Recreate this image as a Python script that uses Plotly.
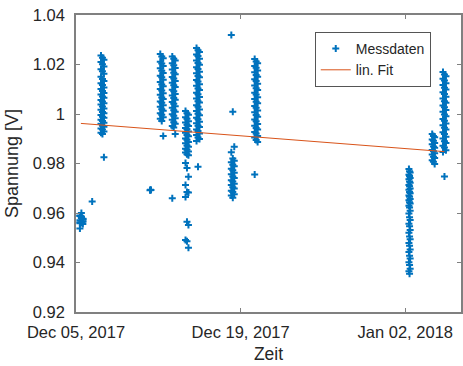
import numpy as np
import pandas as pd
import plotly.graph_objects as go

# ---- data ----
# each measurement session: start time, end time, measured voltages [V]
sess_a_time = ["2017-12-05 08:00", "2017-12-05 14:00"]
sess_a_vals = [0.9537, 0.9583, 0.9556, 0.9590, 0.9560, 0.9577, 0.9563, 0.9586, 0.9567, 0.9571,
               0.9600, 0.9574, 0.9559, 0.9580, 0.9565, 0.9588, 0.9562, 0.9576]
sess_b_time = ["2017-12-06 09:00", "2017-12-06 09:00"]
sess_b_vals = [0.9646]
sess_c_time = ["2017-12-07 03:00", "2017-12-07 09:00"]
sess_c_vals = [1.0236, 1.0227, 1.0219, 1.0210, 1.0201, 1.0192, 1.0181, 1.0173, 1.0163, 1.0151,
               1.0141, 1.0133, 1.0124, 1.0117, 1.0107, 1.0101, 1.0093, 1.0085, 1.0079, 1.0071,
               1.0066, 1.0057, 1.0051, 1.0043, 1.0038, 1.0030, 1.0022, 1.0017, 1.0008, 1.0003,
               0.9996, 0.9989, 0.9985, 0.9977, 0.9972, 0.9965, 0.9961, 0.9953, 0.9948, 0.9941,
               0.9937, 0.9929, 0.9924, 0.9919, 0.9825]
sess_d_time = ["2017-12-11 07:00", "2017-12-11 09:00"]
sess_d_vals = [0.9692, 0.9694, 0.9693]
sess_e_time = ["2017-12-12 04:00", "2017-12-12 10:00"]
sess_e_vals = [1.0242, 1.0232, 1.0225, 1.0211, 1.0204, 1.0194, 1.0185, 1.0175, 1.0166, 1.0155,
               1.0148, 1.0138, 1.0129, 1.0119, 1.0112, 1.0101, 1.0095, 1.0084, 1.0078, 1.0067,
               1.0061, 1.0051, 1.0045, 1.0035, 1.0029, 1.0019, 1.0013, 1.0003, 0.9997, 0.9987,
               0.9981, 0.9972, 0.9911]
sess_f_time = ["2017-12-13 04:30", "2017-12-13 10:30"]
sess_f_vals = [1.0232, 1.0223, 1.0216, 1.0205, 1.0197, 1.0186, 1.0180, 1.0167, 1.0161, 1.0150,
               1.0143, 1.0133, 1.0126, 1.0116, 1.0109, 1.0098, 1.0092, 1.0081, 1.0075, 1.0065,
               1.0058, 1.0048, 1.0041, 1.0031, 1.0025, 1.0015, 1.0009, 0.9999, 0.9993, 0.9983,
               0.9977, 0.9967, 0.9961, 0.9952, 0.9945, 0.9919, 0.9660]
sess_g_time = ["2017-12-14 07:30", "2017-12-14 13:30"]
sess_g_vals = [1.0012, 1.0003, 0.9997, 0.9987, 0.9981, 0.9971, 0.9966, 0.9957, 0.9952, 0.9943,
               0.9938, 0.9929, 0.9924, 0.9915, 0.9910, 0.9901, 0.9896, 0.9887, 0.9882, 0.9873,
               0.9868, 0.9860, 0.9856, 0.9848, 0.9844, 0.9837, 0.9833, 0.9802, 0.9782, 0.9746,
               0.9713, 0.9685, 0.9683, 0.9665, 0.9565, 0.9552, 0.9491, 0.9486, 0.9460]
sess_h_time = ["2017-12-15 06:00", "2017-12-15 12:00"]
sess_h_vals = [1.0267, 1.0258, 1.0251, 1.0240, 1.0234, 1.0223, 1.0216, 1.0206, 1.0199, 1.0189,
               1.0182, 1.0171, 1.0165, 1.0154, 1.0148, 1.0137, 1.0131, 1.0120, 1.0114, 1.0103,
               1.0097, 1.0086, 1.0080, 1.0069, 1.0063, 1.0052, 1.0046, 1.0035, 1.0029, 1.0018,
               1.0012, 1.0001, 0.9995, 0.9985, 0.9979, 0.9969, 0.9963, 0.9953, 0.9947, 0.9937,
               0.9931, 0.9921, 0.9915, 0.9905, 0.9899, 0.9891, 0.9787]
sess_i_time = ["2017-12-18 05:00", "2017-12-18 11:00"]
sess_i_vals = [1.0319, 1.0009, 0.9868, 0.9845, 0.9820, 0.9811, 0.9805, 0.9795, 0.9789, 0.9779,
               0.9773, 0.9763, 0.9757, 0.9747, 0.9741, 0.9732, 0.9727, 0.9718, 0.9713, 0.9704,
               0.9699, 0.9690, 0.9685, 0.9676, 0.9671, 0.9662]
sess_j_time = ["2017-12-20 04:40", "2017-12-20 10:40"]
sess_j_vals = [1.0222, 1.0212, 1.0205, 1.0194, 1.0187, 1.0176, 1.0169, 1.0158, 1.0151, 1.0140,
               1.0133, 1.0122, 1.0115, 1.0104, 1.0097, 1.0086, 1.0079, 1.0068, 1.0061, 1.0050,
               1.0043, 1.0032, 1.0025, 1.0014, 1.0007, 0.9996, 0.9989, 0.9978, 0.9971, 0.9960,
               0.9953, 0.9943, 0.9937, 0.9927, 0.9921, 0.9911, 0.9905, 0.9895, 0.9887, 0.9756]
sess_k_time = ["2018-01-02 07:30", "2018-01-02 10:00"]
sess_k_vals = [0.9778, 0.9769, 0.9764, 0.9755, 0.9750, 0.9741, 0.9736, 0.9727, 0.9722, 0.9713,
               0.9708, 0.9699, 0.9694, 0.9685, 0.9680, 0.9671, 0.9666, 0.9657, 0.9652, 0.9643,
               0.9638, 0.9629, 0.9622, 0.9609, 0.9598, 0.9583, 0.9572, 0.9557, 0.9546, 0.9531,
               0.9520, 0.9505, 0.9494, 0.9479, 0.9468, 0.9453, 0.9442, 0.9427, 0.9416, 0.9401,
               0.9390, 0.9375, 0.9365, 0.9355]
sess_l_time = ["2018-01-04 07:00", "2018-01-04 12:00"]
sess_l_vals = [0.9919, 0.9911, 0.9906, 0.9897, 0.9892, 0.9883, 0.9878, 0.9869, 0.9864, 0.9855,
               0.9850, 0.9841, 0.9836, 0.9827, 0.9822, 0.9813, 0.9807, 0.9798]
sess_m_time = ["2018-01-05 05:00", "2018-01-05 11:00"]
sess_m_vals = [1.0170, 1.0160, 1.0153, 1.0142, 1.0135, 1.0124, 1.0117, 1.0106, 1.0099, 1.0088,
               1.0081, 1.0070, 1.0063, 1.0052, 1.0045, 1.0034, 1.0027, 1.0016, 1.0009, 0.9998,
               0.9991, 0.9980, 0.9973, 0.9962, 0.9955, 0.9944, 0.9937, 0.9926, 0.9919, 0.9908,
               0.9901, 0.9890, 0.9883, 0.9872, 0.9865, 0.9854, 0.9846, 0.9747]

# linear fit line (end points)
fit_time = ["2017-12-05 10:00", "2018-01-05 08:00"]
fit_vals = [0.9962, 0.9848]

x_range = ["2017-12-05 00:00", "2018-01-06 17:45"]
x_tickvals = ["2017-12-05", "2017-12-19", "2018-01-02"]
x_ticktext = ["Dec 05, 2017", "Dec 19, 2017", "Jan 02, 2018"]
y_tickvals = [0.92, 0.94, 0.96, 0.98, 1.0, 1.02, 1.04]
y_ticktext = ["0.92", "0.94", "0.96", "0.98", "1", "1.02", "1.04"]

sessions = [
    (sess_a_time, sess_a_vals), (sess_b_time, sess_b_vals), (sess_c_time, sess_c_vals),
    (sess_d_time, sess_d_vals), (sess_e_time, sess_e_vals), (sess_f_time, sess_f_vals),
    (sess_g_time, sess_g_vals), (sess_h_time, sess_h_vals), (sess_i_time, sess_i_vals),
    (sess_j_time, sess_j_vals), (sess_k_time, sess_k_vals), (sess_l_time, sess_l_vals),
    (sess_m_time, sess_m_vals),
]

# readings of a session were taken repeatedly over a few hours (three sweeps)
xs, ys = [], []
for (t0, t1), vals in sessions:
    t0, t1 = pd.Timestamp(t0), pd.Timestamp(t1)
    sweep = [t0, t0 + (t1 - t0) / 2, t1]
    for i, v in enumerate(vals):
        xs.append(sweep[i % 3])
        ys.append(v)

BLUE = "#0072BD"
ORANGE = "#D95319"
AXC = "#808080"
TXT = "#262626"
FONT = "Liberation Sans, Arial, sans-serif"

fig = go.Figure()
fig.add_trace(go.Scatter(
    x=xs, y=ys, mode="markers", name="Messdaten",
    marker=dict(symbol="cross-thin", size=5, line=dict(color=BLUE, width=2), color=BLUE),
))
fig.add_trace(go.Scatter(
    x=pd.to_datetime(fit_time), y=fit_vals, mode="lines", name="lin. Fit",
    line=dict(color=ORANGE, width=1),
))

fig.update_layout(
    width=463, height=366,
    margin=dict(l=76, r=0, t=15, b=54),
    paper_bgcolor="white", plot_bgcolor="white",
    font=dict(family=FONT, size=16.5, color=TXT),
    showlegend=True,
    legend=dict(
        x=(316 - 76) / 387, y=(312 - 32) / 297, xanchor="left", yanchor="top",
        bgcolor="white", bordercolor="#555555", borderwidth=1,
        font=dict(size=14, color=TXT, family=FONT),
        tracegroupgap=0, itemwidth=30,
    ),
)
fig.update_xaxes(
    type="date", range=x_range,
    tickvals=x_tickvals, ticktext=x_ticktext,
    showgrid=False, zeroline=False,
    showline=True, linecolor=AXC, linewidth=1.5, mirror="ticks",
    ticks="inside", ticklen=4, tickcolor=AXC, tickwidth=1,
    ticklabelstandoff=4,
    title=dict(text="Zeit", font=dict(size=17.5, color=TXT, family=FONT), standoff=8),
)
fig.update_yaxes(
    range=[0.92, 1.04],
    tickvals=y_tickvals, ticktext=y_ticktext,
    showgrid=False, zeroline=False,
    showline=True, linecolor=AXC, linewidth=1.5, mirror="ticks",
    ticks="inside", ticklen=4, tickcolor=AXC, tickwidth=1,
    ticklabelstandoff=6,
    title=dict(text="Spannung [V]", font=dict(size=18, color=TXT, family=FONT), standoff=10),
)

fig.write_html("out.html")
